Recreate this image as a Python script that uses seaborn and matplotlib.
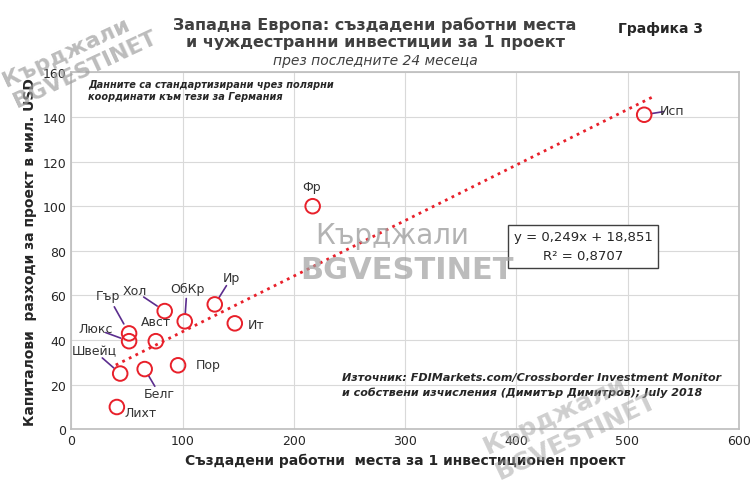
import numpy as np
import pandas as pd
import matplotlib
matplotlib.use("Agg")
import matplotlib.pyplot as plt
import seaborn as sns

countries = ['Исп', 'Фр', 'Ир', 'Ит', 'ОбКр', 'Хол', 'Авст', 'Гър', 'Люкс', 'Швейц', 'Белг', 'Пор', 'Лихт']
jobs = [515, 217, 129, 147, 102, 84, 76, 52, 52, 44, 66, 96, 41]
capex = [141, 100, 56, 47.5, 48.4, 53, 39.5, 43, 39.5, 25, 27, 28.7, 10]
# label positions in data units (x, y) and whether to draw a leader line
label_pos = {
    'Исп': (540, 143, True), 'Фр': (216, 109, False), 'Ир': (144, 68, True), 'Ит': (166, 47, False),
    'ОбКр': (104, 63, True), 'Хол': (57, 62, True), 'Авст': (76, 48.5, False),
    'Гър': (33, 60, True), 'Люкс': (22, 45, True), 'Швейц': (21, 35, True),
    'Белг': (79, 16, True), 'Пор': (123, 29, False), 'Лихт': (62, 7.5, False),
}
slope, intercept = 0.249, 18.851

df = pd.DataFrame({'country': countries, 'jobs': jobs, 'capex': capex})

sns.set_theme(style="white")
plt.rcParams['font.family'] = ['DejaVu Sans']

fig, ax = plt.subplots(figsize=(7.5, 4.89), dpi=100)
fig.subplots_adjust(left=0.095, right=0.985, top=0.85, bottom=0.12)

sns.scatterplot(data=df, x='jobs', y='capex', ax=ax, s=110, facecolor='none',
                edgecolor='#e8202a', linewidth=1.4, zorder=3)
xs = np.array([40, 525])
ax.plot(xs, slope * xs + intercept, linestyle=':', color='#e8202a', linewidth=2)

for c, x, y in zip(countries, jobs, capex):
    lx, ly, line = label_pos[c]
    ax.text(lx, ly, c, fontsize=9, color='#333333', ha='center', va='center', zorder=4)
    if line:
        dx, dy = lx - x, ly - y
        ax.plot([x + dx * 0.25, x + dx * 0.7], [y + dy * 0.25, y + dy * 0.7],
                color='#5b2d8e', linewidth=1.2)

ax.set_xlim(0, 600)
ax.set_ylim(0, 160)
ax.set_xticks(range(0, 601, 100))
ax.set_yticks(range(0, 161, 20))
ax.tick_params(labelsize=9, length=0)
ax.grid(True, color='#d9d9d9', linewidth=0.8)
for s in ax.spines.values():
    s.set_color('#bfbfbf')
ax.set_xlabel('Създадени работни  места за 1 инвестиционен проект', fontsize=10, fontweight='bold')
ax.set_ylabel('Капиталови  разходи за проект в мил. USD', fontsize=10, fontweight='bold')

fig.text(0.5, 0.965, 'Западна Европа: създадени работни места\nи чуждестранни инвестиции за 1 проект',
         ha='center', va='top', fontsize=11.5, fontweight='bold', color='#404040')
fig.text(0.5, 0.875, 'през последните 24 месеца', ha='center', va='center',
         fontsize=10, style='italic', color='#404040')
fig.text(0.88, 0.955, 'Графика 3', ha='center', va='top', fontsize=10, fontweight='bold')

ax.text(15, 152, 'Данните са стандартизирани чрез полярни\nкоординати към тези за Германия',
        fontsize=7, style='italic', fontweight='bold', va='center')
ax.text(460, 82, 'y = 0,249x + 18,851\nR² = 0,8707', fontsize=9.5, ha='center', va='center',
        linespacing=1.6, bbox=dict(facecolor='white', edgecolor='#404040', pad=4))
ax.text(243, 20, 'Източник: FDIMarkets.com/Crossborder Investment Monitor\nи собствени изчисления (Димитър Димитров); July 2018',
        fontsize=8, style='italic', fontweight='bold', va='center', linespacing=1.5, zorder=5)

# watermarks
fig.text(0.42, 0.5, 'Кърджали', fontsize=20, color='#a0a0a0', alpha=0.8)
fig.text(0.40, 0.43, 'BGVESTINET', fontsize=22, color='#a0a0a0', fontweight='bold', alpha=0.7)
fig.text(0.0, 0.78, 'Кърджали\nBGVESTINET', fontsize=16, color='#a0a0a0', fontweight='bold',
         rotation=25, alpha=0.7)
fig.text(0.64, 0.02, 'Кърджали\nBGVESTINET', fontsize=18, color='#a0a0a0', fontweight='bold',
         rotation=25, alpha=0.5)

fig.savefig('out.png', dpi=100)
